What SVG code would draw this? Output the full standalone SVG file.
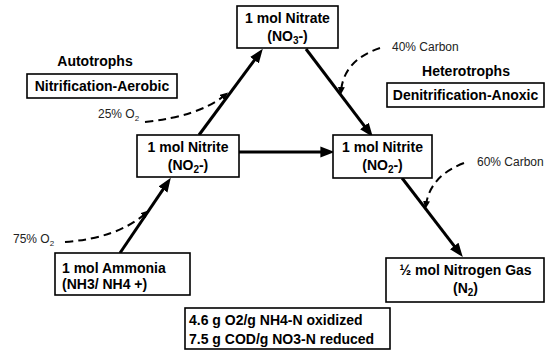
<svg xmlns="http://www.w3.org/2000/svg" width="546" height="350" viewBox="0 0 546 350">
<style>
  .box { fill: #fff; stroke: #000; stroke-width: 1.6; }
  .b { font-family: "Liberation Sans", Arial, sans-serif; font-weight: bold; font-size: 14px; fill: #000; }
  .r { font-family: "Liberation Sans", Arial, sans-serif; font-size: 12px; fill: #222; }
  .c { text-anchor: middle; }
  .main { stroke: #000; stroke-width: 3; fill: none; marker-end: url(#ah); }
  .dash { stroke: #000; stroke-width: 2; fill: none; stroke-dasharray: 8 5; marker-end: url(#sh); }
</style>
<defs>
  <marker id="ah" markerUnits="userSpaceOnUse" markerWidth="14" markerHeight="12" viewBox="0 0 13 10" refX="8" refY="5" orient="auto">
    <path d="M0,0 L13,5 L0,10 z" fill="#000"/>
  </marker>
  <marker id="sh" markerUnits="userSpaceOnUse" markerWidth="8" markerHeight="7" viewBox="0 0 8 7" refX="4" refY="3.5" orient="auto">
    <path d="M0,0 L8,3.5 L0,7 z" fill="#000"/>
  </marker>
</defs>
<rect width="546" height="350" fill="#fff"/>

<g id="connectors">
  <line class="main" x1="120" y1="253" x2="167.8" y2="182.3"/>
  <line class="main" x1="199" y1="135" x2="259.6" y2="53.2"/>
  <line class="main" x1="306" y1="49" x2="369.6" y2="132.8"/>
  <line class="main" x1="239" y1="152" x2="329" y2="152"/>
  <line class="main" x1="402" y1="178" x2="459.5" y2="252.8"/>
  <path class="dash" d="M65,242 Q118,238 146,213"/>
  <path class="dash" d="M145,122 Q200,116 225,95"/>
  <path class="dash" d="M380,48 Q344,60 341,91"/>
  <path class="dash" d="M464,163 Q430,176 426,205"/>
</g>

<g id="label-autotrophs"><text class="b c" x="95" y="66">Autotrophs</text></g>
<g id="label-nitrification">
  <rect class="box" x="27" y="74" width="150" height="24"/>
  <text class="b c" x="102" y="91">Nitrification-Aerobic</text>
</g>
<g id="label-heterotrophs"><text class="b c" x="466" y="76">Heterotrophs</text></g>
<g id="label-denitrification">
  <rect class="box" x="387" y="83" width="157" height="24"/>
  <text class="b c" x="465.5" y="100">Denitrification-Anoxic</text>
</g>

<g id="label-25o2"><text class="r" x="98" y="118">25% O<tspan font-size="8" dy="3">2</tspan></text></g>
<g id="label-75o2"><text class="r" x="13" y="243">75% O<tspan font-size="8" dy="3">2</tspan></text></g>
<g id="label-40c"><text class="r" x="392" y="51">40% Carbon</text></g>
<g id="label-60c"><text class="r" x="477" y="166">60% Carbon</text></g>

<g id="node-nitrate">
  <rect class="box" x="237" y="6" width="101" height="42"/>
  <text class="b c" x="287.5" y="23">1 mol Nitrate</text>
  <text class="b c" x="287.5" y="41">(NO<tspan font-size="10" dy="3">3</tspan><tspan dy="-3">-)</tspan></text>
</g>
<g id="node-nitrite-left">
  <rect class="box" x="137" y="135" width="102" height="42"/>
  <text class="b c" x="188" y="152">1 mol Nitrite</text>
  <text class="b c" x="188" y="170">(NO<tspan font-size="10" dy="3">2</tspan><tspan dy="-3">-)</tspan></text>
</g>
<g id="node-nitrite-right">
  <rect class="box" x="333" y="135" width="99" height="43"/>
  <text class="b c" x="382.5" y="152">1 mol Nitrite</text>
  <text class="b c" x="382.5" y="170">(NO<tspan font-size="10" dy="3">2</tspan><tspan dy="-3">-)</tspan></text>
</g>
<g id="node-ammonia">
  <rect class="box" x="55" y="253" width="135" height="42"/>
  <text class="b" x="62" y="273">1 mol Ammonia</text>
  <text class="b" x="62" y="289">(NH3/ NH4 +)</text>
</g>
<g id="node-n2">
  <rect class="box" x="386" y="258" width="158" height="44"/>
  <text class="b c" x="465.5" y="275">½  mol Nitrogen Gas</text>
  <text class="b c" x="465.5" y="293">(N<tspan font-size="10" dy="3">2</tspan><tspan dy="-3">)</tspan></text>
</g>
<g id="note">
  <rect class="box" x="185" y="308" width="205" height="41"/>
  <text class="b" x="189" y="325">4.6 g O2/g NH4-N oxidized</text>
  <text class="b" x="189" y="344">7.5 g COD/g NO3-N reduced</text>
</g>
</svg>
